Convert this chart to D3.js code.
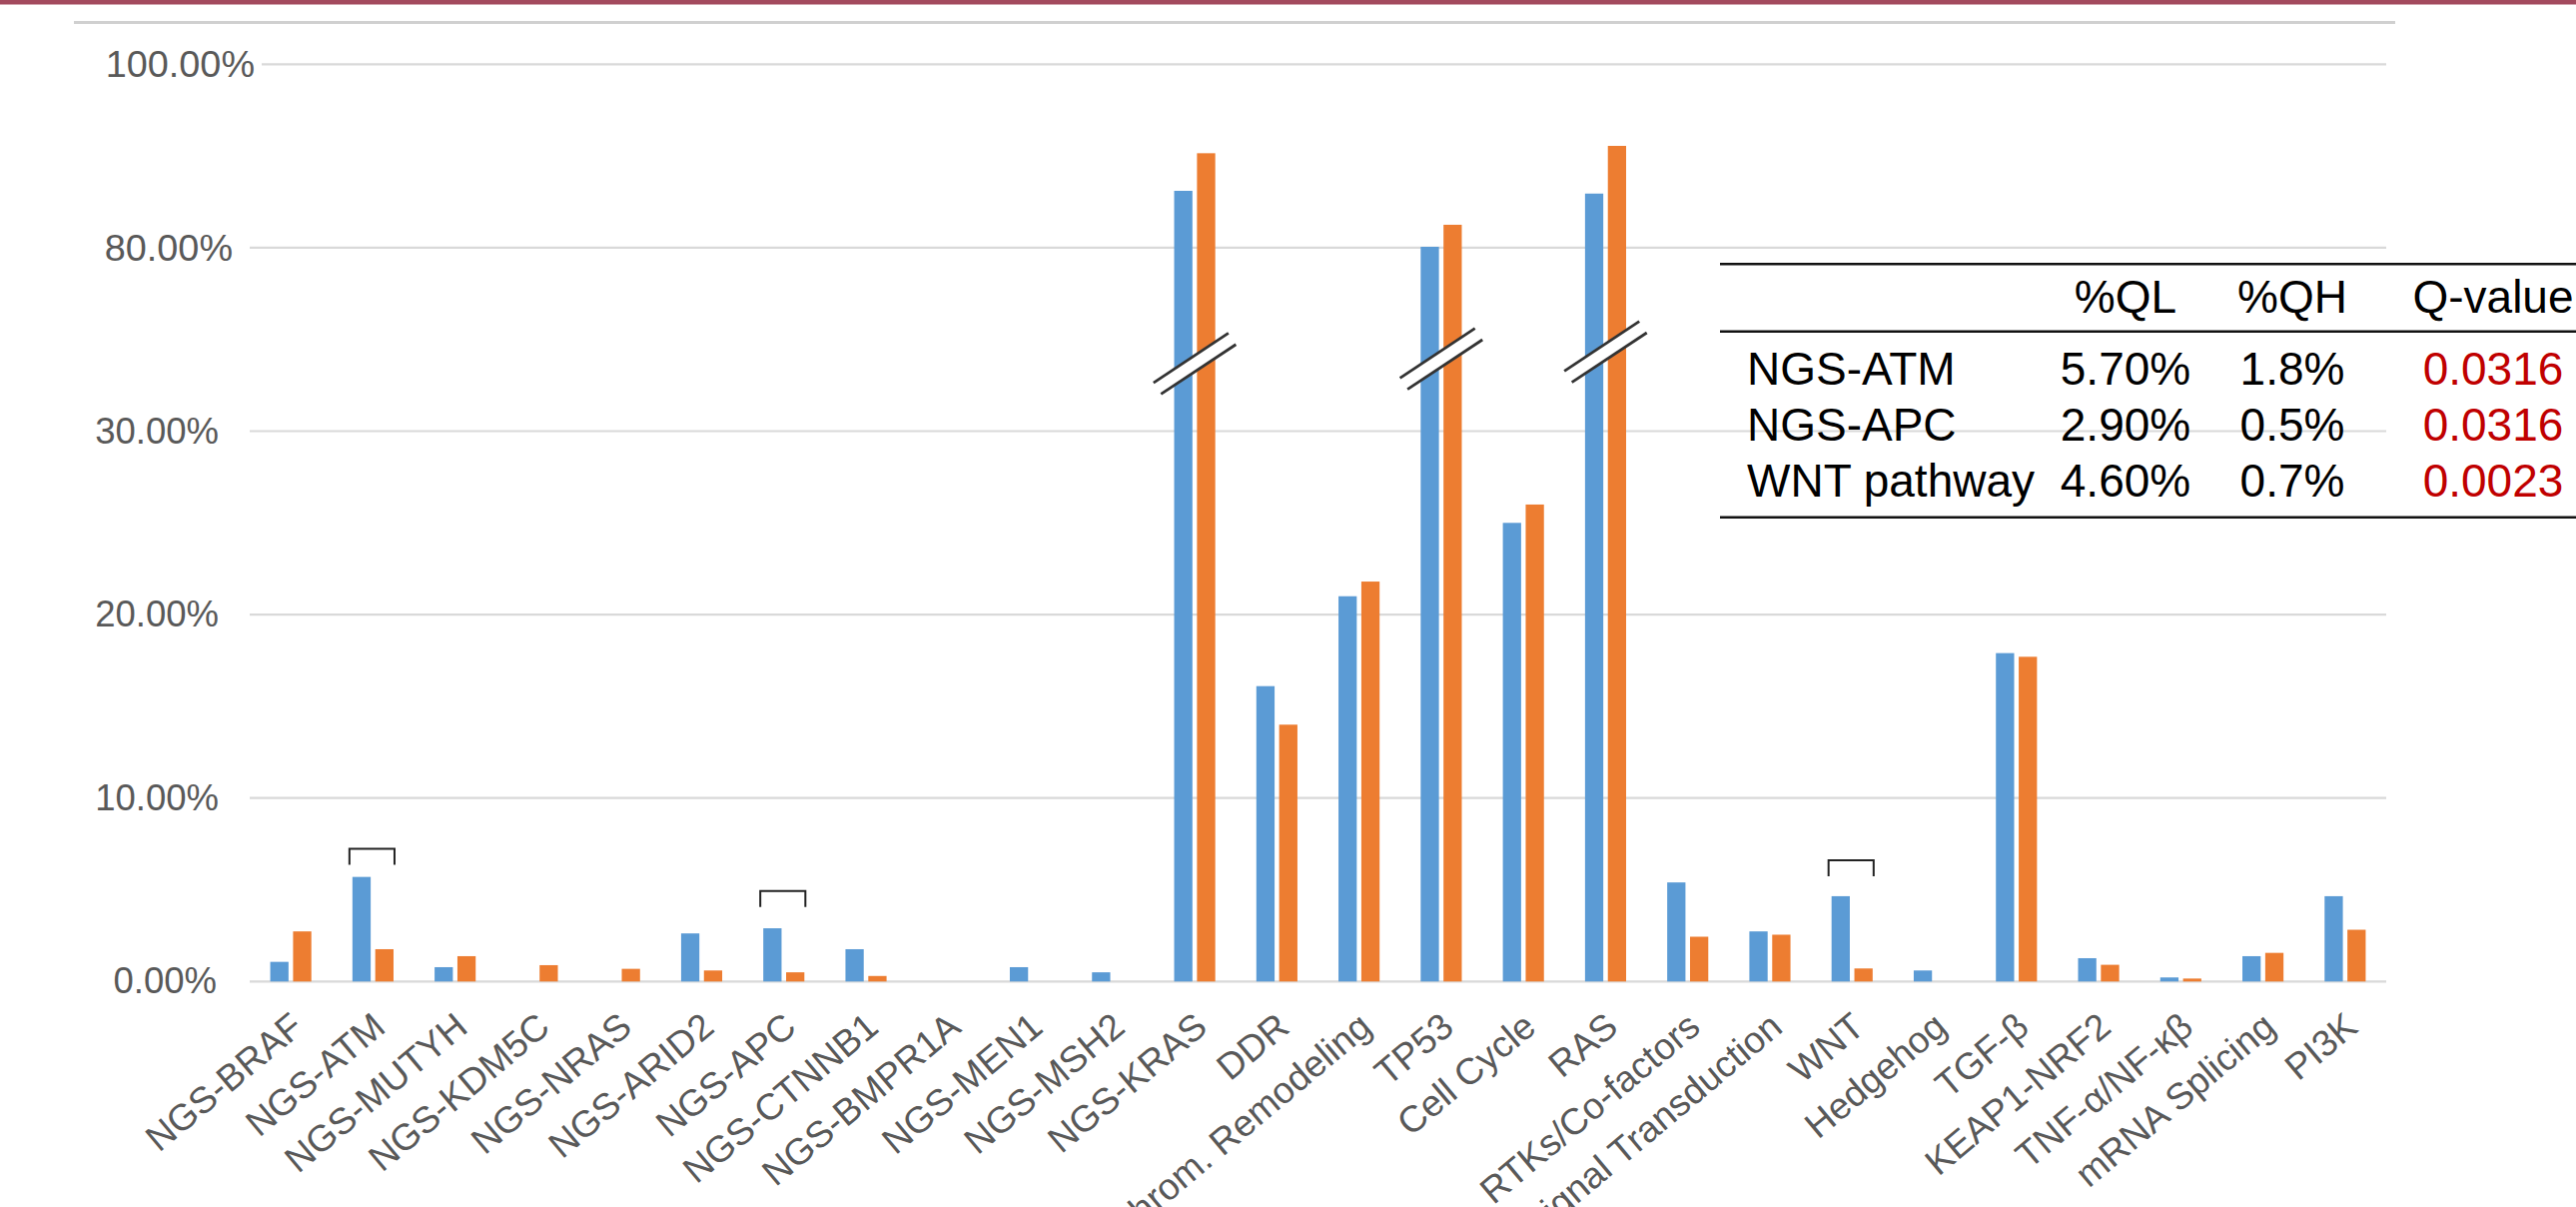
<!DOCTYPE html>
<html>
<head>
<meta charset="utf-8">
<script src="https://cdn.jsdelivr.net/npm/d3@7/dist/d3.min.js"></script>
<style>
  html, body { margin: 0; padding: 0; background: #ffffff; }
  svg { display: block; }
</style>
</head>
<body>
<svg id="chart" width="2579" height="1208"></svg>
<script>
// ---------------- data ----------------
const categories = ["NGS-BRAF", "NGS-ATM", "NGS-MUTYH", "NGS-KDM5C", "NGS-NRAS", "NGS-ARID2", "NGS-APC",
  "NGS-CTNNB1", "NGS-BMPR1A", "NGS-MEN1", "NGS-MSH2", "NGS-KRAS", "DDR", "Chrom. Remodeling", "TP53",
  "Cell Cycle", "RAS", "RTKs/Co-factors", "Signal Transduction", "WNT", "Hedgehog", "TGF-β",
  "KEAP1-NRF2", "TNF-α/NF-κβ", "mRNA Splicing", "PI3K"];
const seriesNames = ["QL", "QH"];
const qlValues = [1.07, 5.7, 0.78, 0, 0, 2.62, 2.9, 1.76, 0, 0.78, 0.5, 86.2, 16.1, 21.0, 80.1, 25.0, 85.9,
  5.4, 2.73, 4.65, 0.6, 17.9, 1.27, 0.22, 1.38, 4.65];
const qhValues = [2.73, 1.76, 1.38, 0.89, 0.69, 0.6, 0.5, 0.3, 0, 0, 0, 90.3, 14.0, 21.8, 82.5, 26.0, 91.1,
  2.44, 2.55, 0.71, 0, 17.7, 0.91, 0.16, 1.56, 2.82];
const yTicks = [0, 10, 20, 30, 80, 100];
const brokenCategories = ["NGS-KRAS", "TP53", "RAS"];
const breakLevels = [48.4, 49.7, 51.6];
const bracketCategories = ["NGS-ATM", "NGS-APC", "WNT"];
const bracketLevels = [7.23, 4.93, 6.6];
const tableHeader = ["", "%QL", "%QH", "Q-value"];
const tableRows = [
  ["NGS-ATM", "5.70%", "1.8%", "0.0316"],
  ["NGS-APC", "2.90%", "0.5%", "0.0316"],
  ["WNT pathway", "4.60%", "0.7%", "0.0023"]
];

// ---------------- layout ----------------
const svg = d3.select("#chart");
const W = 2579, H = 1208;
const left = 250, right = 2389;
const y0 = 982.3, yStep = 183.6;
const colors = { QL: "#5b9bd5", QH: "#ed7d31" };
const font = "'Liberation Sans', Arial, sans-serif";

// decorative header lines
svg.append("rect").attr("x", 0).attr("y", 0).attr("width", W).attr("height", 4.5).attr("fill", "#a34a5e");
svg.append("line").attr("x1", 74).attr("x2", 2398).attr("y1", 22.5).attr("y2", 22.5)
  .attr("stroke", "#d0d0d0").attr("stroke-width", 3);

// scales
const x0 = d3.scaleBand().domain(categories).range([left, right]).paddingInner(0.5).paddingOuter(0.25);
const x1 = d3.scaleBand().domain(seriesNames).range([0, x0.bandwidth()]).paddingInner(0.2);
const y = d3.scaleLinear()
  .domain([0, 30, 80, 100])
  .range([y0, y0 - 3 * yStep, y0 - 4 * yStep, y0 - 5 * yStep]);

// gridlines
svg.append("g").selectAll("line").data(yTicks).join("line")
  .attr("x1", d => d === 100 ? left + 12 : left).attr("x2", right)
  .attr("y1", d => y(d)).attr("y2", d => y(d))
  .attr("stroke", "#d9d9d9").attr("stroke-width", 2.2);

// y axis labels
const yAxis = d3.axisLeft(y).tickValues(yTicks).tickSize(0).tickPadding(0)
  .tickFormat(d => d.toFixed(2) + "%");
const yg = svg.append("g").attr("transform", `translate(219,0)`).call(yAxis);
yg.select(".domain").remove();
yg.selectAll("text")
  .attr("font-family", font).attr("fill", "#595959")
  .attr("dx", d => d === 100 ? 36 : (d === 80 ? 14 : (d === 0 ? -2 : 0)))
  .style("font-size", d => (d >= 80 ? "37.8px" : "36.5px"));

// bars
const rows = categories.map((c, i) => ({ cat: c, QL: qlValues[i], QH: qhValues[i] }));
const groups = svg.append("g").selectAll("g").data(rows).join("g")
  .attr("transform", d => `translate(${x0(d.cat)},0)`);
groups.selectAll("rect")
  .data(d => seriesNames.map(k => ({ key: k, value: d[k] })).filter(e => e.value > 0))
  .join("rect")
  .attr("x", d => x1(d.key))
  .attr("width", x1.bandwidth())
  .attr("y", d => y(d.value))
  .attr("height", d => y0 - y(d.value))
  .attr("fill", d => colors[d.key]);

// axis break marks
const breaks = svg.append("g");
brokenCategories.forEach((c, i) => {
  const cx = x0(c) + x0.bandwidth() / 2;
  const cy = y(breakLevels[i]);
  const g = breaks.append("g").attr("transform", `translate(${cx},${cy}) rotate(-33.5)`);
  g.append("rect").attr("x", -45).attr("y", -6.8).attr("width", 90).attr("height", 13.6).attr("fill", "#ffffff");
  [-6.8, 6.8].forEach(off => {
    g.append("line").attr("x1", -45).attr("x2", 45).attr("y1", off).attr("y2", off)
      .attr("stroke", "#333333").attr("stroke-width", 2.8);
  });
});

// significance brackets
const brackets = svg.append("g");
bracketCategories.forEach((c, i) => {
  const bx1 = x0(c) - 3, bx2 = x0(c) + x0.bandwidth() + 1;
  const by = y(bracketLevels[i]);
  brackets.append("path")
    .attr("d", `M${bx1},${by + 16}V${by}H${bx2}V${by + 16}`)
    .attr("fill", "none").attr("stroke", "#222222").attr("stroke-width", 2);
});

// x labels
svg.append("g").selectAll("text").data(categories).join("text")
  .attr("transform", d => `translate(${x0(d) + x0.bandwidth() / 2 + 6},1021) rotate(-40)`)
  .attr("text-anchor", "end").attr("dy", "0.36em")
  .attr("font-family", font).attr("font-size", 37).attr("fill", "#595959")
  .text(d => d);

// table
const table = svg.append("g").attr("font-family", font).attr("font-size", 46);
const tLeft = 1722, tRight = W;
[264.3, 331.7, 517.7].forEach(ly => {
  table.append("line").attr("x1", tLeft).attr("x2", tRight).attr("y1", ly).attr("y2", ly)
    .attr("stroke", "#111111").attr("stroke-width", 2.6);
});
const colX = [1749, 2128, 2295, 2496];
const colAnchor = ["start", "middle", "middle", "middle"];
tableHeader.forEach((t, j) => {
  table.append("text").attr("x", colX[j]).attr("y", 313).attr("text-anchor", colAnchor[j])
    .attr("fill", "#000000").text(t);
});
const rowY = [385, 441, 497];
tableRows.forEach((r, i) => {
  r.forEach((t, j) => {
    table.append("text").attr("x", colX[j]).attr("y", rowY[i]).attr("text-anchor", colAnchor[j])
      .attr("fill", j === 3 ? "#c00000" : "#000000").text(t);
  });
});
</script>
</body>
</html>
